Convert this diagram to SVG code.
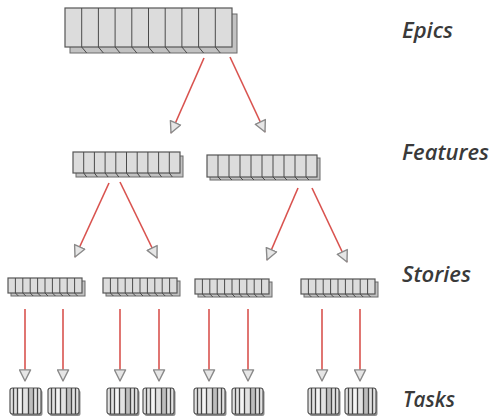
<svg xmlns="http://www.w3.org/2000/svg" xmlns:xlink="http://www.w3.org/1999/xlink" width="491" height="417" viewBox="0 0 491 417">
<style>
.back{fill:#c2c2c2;stroke:#6a6a6a;stroke-width:1}
.front{fill:#dcdcdc;stroke:#555;stroke-width:1.2}
.seg{fill:none;stroke:#4a4a4a;stroke-width:1}
.conn{stroke:#d9534f;stroke-width:1.6;fill:none;marker-end:url(#tri)}
.lbl{font-family:"Open Sans","Liberation Sans",sans-serif;font-style:italic;font-weight:600;font-size:22px;fill:#3a3a3a}
.stripe{stroke:#444;stroke-width:1.3}
</style>
<defs>
<marker id="tri" viewBox="0 0 14 14" refX="13" refY="7" markerWidth="13" markerHeight="13" markerUnits="userSpaceOnUse" orient="auto">
<path d="M1,1 L13,7 L1,13 Z" fill="#e6e6e6" stroke="#8a8a8a" stroke-width="1.5" stroke-linejoin="round"/>
</marker>
<g id="story">
<rect class="back" x="3" y="3" width="74" height="15"/>
<rect class="front" x="0" y="0" width="74" height="15"/>
<path class="seg" d="M7.4,0V15l3,3M14.8,0V15l3,3M22.2,0V15l3,3M29.6,0V15l3,3M37,0V15l3,3M44.4,0V15l3,3M51.8,0V15l3,3M59.2,0V15l3,3M66.6,0V15l3,3"/>
</g>
<g id="task">
<rect x="1.5" y="2" width="31" height="26" rx="2.5" fill="#8c8c8c"/>
<rect x="0" y="0" width="31" height="26" rx="2.5" fill="#e2e2e2" stroke="#555" stroke-width="1.2"/>
<rect x="8" y="1" width="4" height="24" fill="#f4f4f4"/>
<rect x="19" y="1" width="4" height="24" fill="#bdbdbd"/>
<path class="stripe" d="M3.5,0V26M7.5,0V26M12.5,0V26M18.5,0V26M23.5,0V26M27.5,0V26"/>
</g>
</defs>

<g id="connectors">
<line class="conn" x1="204" y1="58" x2="171" y2="133"/>
<line class="conn" x1="230" y1="57" x2="265" y2="132"/>
<line class="conn" x1="109" y1="183" x2="75" y2="257"/>
<line class="conn" x1="120" y1="182" x2="157" y2="258"/>
<line class="conn" x1="298" y1="188" x2="267" y2="260"/>
<line class="conn" x1="312" y1="188" x2="347" y2="262"/>
<line class="conn" x1="25" y1="309" x2="25" y2="381"/>
<line class="conn" x1="63" y1="309" x2="63" y2="381"/>
<line class="conn" x1="120" y1="309" x2="120" y2="381"/>
<line class="conn" x1="159" y1="309" x2="159" y2="381"/>
<line class="conn" x1="209" y1="309" x2="209" y2="381"/>
<line class="conn" x1="248" y1="309" x2="248" y2="381"/>
<line class="conn" x1="322" y1="309" x2="322" y2="381"/>
<line class="conn" x1="360" y1="309" x2="360" y2="381"/>
</g>

<g id="epic">
<rect class="back" x="70" y="14" width="167" height="39"/>
<rect class="front" x="65" y="8" width="167" height="39"/>
<path class="seg" d="M81.7,8V47l5,6M98.4,8V47l5,6M115.1,8V47l5,6M131.8,8V47l5,6M148.5,8V47l5,6M165.2,8V47l5,6M181.9,8V47l5,6M198.6,8V47l5,6M215.3,8V47l5,6"/>
</g>

<g id="feature1">
<rect class="back" x="76" y="156" width="107" height="21"/>
<rect class="front" x="73" y="152" width="107" height="21"/>
<path class="seg" d="M83.7,152V173l3,4M94.4,152V173l3,4M105.1,152V173l3,4M115.8,152V173l3,4M126.5,152V173l3,4M137.2,152V173l3,4M147.9,152V173l3,4M158.6,152V173l3,4M169.3,152V173l3,4"/>
</g>

<g id="feature2">
<rect class="back" x="210" y="158" width="110" height="22"/>
<rect class="front" x="207" y="155" width="110" height="22"/>
<path class="seg" d="M218,155V177l3,3M229,155V177l3,3M240,155V177l3,3M251,155V177l3,3M262,155V177l3,3M273,155V177l3,3M284,155V177l3,3M295,155V177l3,3M306,155V177l3,3"/>
</g>

<g id="story1"><use xlink:href="#story" href="#story" x="8" y="278"/></g>
<g id="story2"><use xlink:href="#story" href="#story" x="103" y="278"/></g>
<g id="story3"><use xlink:href="#story" href="#story" x="195" y="279"/></g>
<g id="story4"><use xlink:href="#story" href="#story" x="301" y="279"/></g>

<g id="task1"><use xlink:href="#task" href="#task" x="10" y="388"/></g>
<g id="task2"><use xlink:href="#task" href="#task" x="48" y="388"/></g>
<g id="task3"><use xlink:href="#task" href="#task" x="107" y="388"/></g>
<g id="task4"><use xlink:href="#task" href="#task" x="143" y="388"/></g>
<g id="task5"><use xlink:href="#task" href="#task" x="194" y="388"/></g>
<g id="task6"><use xlink:href="#task" href="#task" x="232" y="388"/></g>
<g id="task7"><use xlink:href="#task" href="#task" x="308" y="388"/></g>
<g id="task8"><use xlink:href="#task" href="#task" x="345" y="388"/></g>

<g id="labels">
<text class="lbl" x="402" y="38" textLength="51" lengthAdjust="spacingAndGlyphs">Epics</text>
<text class="lbl" x="402" y="160" textLength="87" lengthAdjust="spacingAndGlyphs">Features</text>
<text class="lbl" x="402" y="282" textLength="69" lengthAdjust="spacingAndGlyphs">Stories</text>
<text class="lbl" x="403" y="407" textLength="52" lengthAdjust="spacingAndGlyphs">Tasks</text>
</g>
</svg>
